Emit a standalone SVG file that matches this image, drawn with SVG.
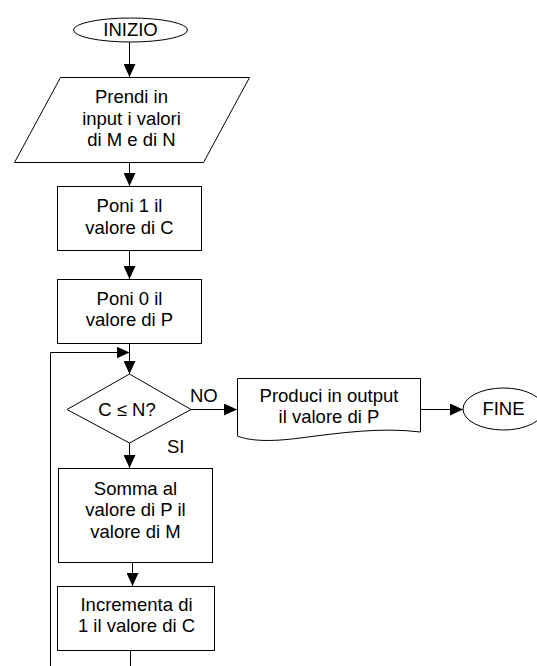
<svg xmlns="http://www.w3.org/2000/svg" width="537" height="666" viewBox="0 0 537 666">
  <style>
    .shape { fill: #ffffff; stroke: #000000; stroke-width: 1; }
    .conn { fill: none; stroke: #000000; stroke-width: 1; }
    .label { font-family: "Liberation Sans", Arial, sans-serif; font-size: 18.5px; fill: #000000; text-anchor: middle; }
    .tag { font-family: "Liberation Sans", Arial, sans-serif; font-size: 18.5px; fill: #000000; }
  </style>
  <defs>
    <marker id="arrow" markerUnits="userSpaceOnUse" markerWidth="14" markerHeight="12" refX="13" refY="6" orient="auto">
      <path d="M0,0 L13,6 L0,12 Z" fill="#000000"/>
    </marker>
  </defs>
  <rect width="537" height="666" fill="#ffffff"/>

  <!-- connectors -->
  <g id="connectors">
    <path class="conn" d="M129.5,42 V77" marker-end="url(#arrow)"/>
    <path class="conn" d="M129.5,162 V186" marker-end="url(#arrow)"/>
    <path class="conn" d="M129.5,250.5 V279" marker-end="url(#arrow)"/>
    <path class="conn" d="M129.5,343.5 V374" marker-end="url(#arrow)"/>
    <path class="conn" d="M50.5,666 V352.5 H129.5" marker-end="url(#arrow)"/>
    <path class="conn" d="M191,409.5 H237" marker-end="url(#arrow)"/>
    <path class="conn" d="M421,409.5 H463" marker-end="url(#arrow)"/>
    <path class="conn" d="M129.5,443 V468" marker-end="url(#arrow)"/>
    <path class="conn" d="M132.5,562.5 V586" marker-end="url(#arrow)"/>
    <path class="conn" d="M130.5,650.5 V666"/>
  </g>

  <!-- start terminal -->
  <g id="start">
    <ellipse class="shape" cx="130.5" cy="30" rx="57" ry="12"/>
    <text class="label" x="130.5" y="36">INIZIO</text>
  </g>

  <!-- input M, N -->
  <g id="input">
    <polygon class="shape" points="60.5,77.5 249.5,77.5 203.5,162.5 14.5,162.5"/>
    <text class="label" x="131.5" y="103">Prendi in</text>
    <text class="label" x="131.5" y="124.5">input i valori</text>
    <text class="label" x="131.5" y="146">di M e di N</text>
  </g>

  <!-- C = 1 -->
  <g id="set-c">
    <rect class="shape" x="57.5" y="186.5" width="144" height="64"/>
    <text class="label" x="129.5" y="212">Poni 1 il</text>
    <text class="label" x="129.5" y="233.5">valore di C</text>
  </g>

  <!-- P = 0 -->
  <g id="set-p">
    <rect class="shape" x="57.5" y="279.5" width="144" height="64"/>
    <text class="label" x="129.5" y="304.5">Poni 0 il</text>
    <text class="label" x="129.5" y="326">valore di P</text>
  </g>

  <!-- loop test -->
  <g id="test">
    <polygon class="shape" points="129.5,374 191,409.5 129.5,443 67,409.5"/>
    <text class="label" x="127" y="415.5">C ≤ N?</text>
    <text class="tag" x="190" y="402">NO</text>
    <text class="tag" x="167" y="453">SI</text>
  </g>

  <!-- output P -->
  <g id="output">
    <path class="shape" d="M237.5,378.5 H420.5 V432 C 380,427 340,433 300,438 C 270,442 250,441 237.5,436 Z"/>
    <text class="label" x="329" y="402">Produci in output</text>
    <text class="label" x="329" y="423">il valore di P</text>
  </g>

  <!-- end terminal -->
  <g id="end">
    <ellipse class="shape" cx="503.5" cy="409" rx="40.5" ry="21"/>
    <text class="label" x="503.5" y="415">FINE</text>
  </g>

  <!-- P = P + M -->
  <g id="sum">
    <rect class="shape" x="58.5" y="468.5" width="154" height="94"/>
    <text class="label" x="135.5" y="495">Somma al</text>
    <text class="label" x="135.5" y="516">valore di P il</text>
    <text class="label" x="135.5" y="537.5">valore di M</text>
  </g>

  <!-- C = C + 1 -->
  <g id="increment">
    <rect class="shape" x="57.5" y="586.5" width="157" height="64"/>
    <text class="label" x="136.5" y="610.5">Incrementa di</text>
    <text class="label" x="136.5" y="632">1 il valore di C</text>
  </g>
</svg>
